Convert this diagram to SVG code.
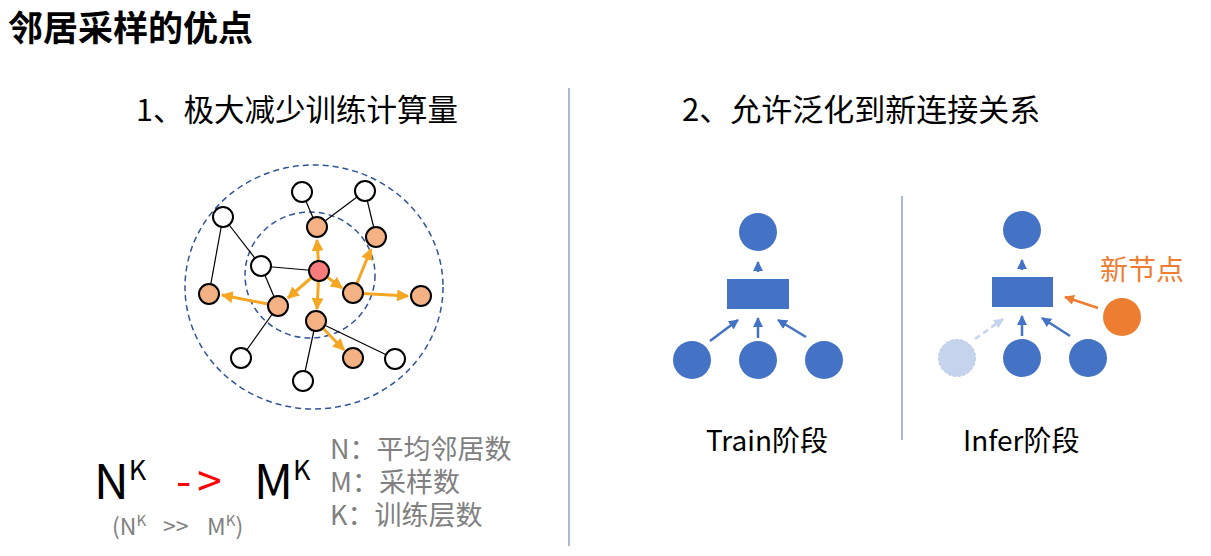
<svg xmlns="http://www.w3.org/2000/svg" width="1211" height="556" viewBox="0 0 1211 556">
<style>
text{font-family:"Noto Sans CJK SC","Noto Sans",sans-serif}
.e{stroke:#000;stroke-width:1.2}
.w{fill:#fff;stroke:#000;stroke-width:2}
.o{fill:#F4B183;stroke:#000;stroke-width:2}
.oa{stroke:#F5A623;stroke-width:3;fill:none;marker-end:url(#oh)}
.b{fill:#4472C4}
.ba{stroke:#4472C4;stroke-width:2.5;marker-end:url(#bh)}
</style>
<defs>
<marker id="oh" viewBox="0 0 10 10" refX="9" refY="5" markerWidth="4" markerHeight="4" orient="auto"><path d="M0,0L10,5L0,10z" fill="#F5A623"/></marker>
<marker id="bh" viewBox="0 0 10 10" refX="9" refY="5" markerWidth="4" markerHeight="4" orient="auto"><path d="M0,0L10,5L0,10z" fill="#4472C4"/></marker>
<marker id="lh" viewBox="0 0 10 10" refX="9" refY="5" markerWidth="4" markerHeight="4" orient="auto"><path d="M0,0L10,5L0,10z" fill="#C5D3EC"/></marker>
<marker id="rh" viewBox="0 0 10 10" refX="9" refY="5" markerWidth="4" markerHeight="4" orient="auto"><path d="M0,0L10,5L0,10z" fill="#ED7D31"/></marker>
</defs>
<text x="8" y="41" font-size="35" font-weight="bold">邻居采样的优点</text>
<text x="136" y="121" font-size="30.5">1、极大减少训练计算量</text>
<text x="682" y="121" font-size="31">2、允许泛化到新连接关系</text>
<line x1="569" y1="88" x2="569" y2="546" stroke="#8FA4C8" stroke-width="1.5"/>
<line x1="902" y1="196" x2="902" y2="440" stroke="#8FA4C8" stroke-width="1.5"/>
<ellipse cx="314" cy="287" rx="129" ry="122" fill="none" stroke="#2F5597" stroke-width="1.5" stroke-dasharray="6,4"/>
<ellipse cx="310" cy="275" rx="65" ry="63" fill="none" stroke="#2F5597" stroke-width="1.5" stroke-dasharray="6,4"/>
<g id="connectors">
<line class="e" x1="302" y1="192" x2="317" y2="227"/>
<line class="e" x1="365" y1="191" x2="317" y2="227"/>
<line class="e" x1="365" y1="191" x2="376" y2="237"/>
<line class="e" x1="223" y1="217" x2="209" y2="294"/>
<line class="e" x1="223" y1="217" x2="261" y2="266"/>
<line class="e" x1="261" y1="266" x2="319" y2="271"/>
<line class="e" x1="261" y1="266" x2="278" y2="306"/>
<line class="e" x1="278" y1="306" x2="241" y2="358"/>
<line class="e" x1="316" y1="321" x2="303" y2="381"/>
<line class="e" x1="316" y1="321" x2="395" y2="359"/>
<line class="oa" x1="319" y1="271" x2="317" y2="240"/>
<line class="oa" x1="319" y1="271" x2="288" y2="298"/>
<line class="oa" x1="319" y1="271" x2="342" y2="288"/>
<line class="oa" x1="319" y1="271" x2="317" y2="309"/>
<line class="oa" x1="353" y1="293" x2="371" y2="249"/>
<line class="oa" x1="353" y1="293" x2="408" y2="296"/>
<line class="oa" x1="278" y1="306" x2="222" y2="295"/>
<line class="oa" x1="316" y1="321" x2="344" y2="350"/>
<line class="ba" x1="758" y1="272" x2="758" y2="262"/>
<line class="ba" x1="710" y1="341" x2="738" y2="320"/>
<line class="ba" x1="758" y1="338" x2="758" y2="318"/>
<line class="ba" x1="806" y1="337" x2="778" y2="320"/>
<line class="ba" x1="1022" y1="270" x2="1022" y2="260"/>
<line x1="975" y1="339" x2="1003" y2="319" stroke="#C5D3EC" stroke-width="2.5" stroke-dasharray="6,4" marker-end="url(#lh)"/>
<line class="ba" x1="1022" y1="336" x2="1022" y2="316"/>
<line class="ba" x1="1070" y1="336" x2="1042" y2="318"/>
<line x1="1098" y1="308" x2="1065" y2="297" stroke="#ED7D31" stroke-width="2.5" marker-end="url(#rh)"/>
</g>
<g id="n1"><circle class="w" cx="302" cy="192" r="10"/></g>
<g id="n2"><circle class="w" cx="365" cy="191" r="10"/></g>
<g id="n3"><circle class="w" cx="223" cy="217" r="10"/></g>
<g id="n4"><circle class="o" cx="317" cy="227" r="10"/></g>
<g id="n5"><circle class="o" cx="376" cy="237" r="10"/></g>
<g id="n6"><circle class="w" cx="261" cy="266" r="10"/></g>
<g id="n7"><circle cx="319" cy="271" r="10" fill="#F87C7C" stroke="#000" stroke-width="2"/></g>
<g id="n8"><circle class="o" cx="209" cy="294" r="10"/></g>
<g id="n9"><circle class="o" cx="353" cy="293" r="10"/></g>
<g id="n10"><circle class="o" cx="421" cy="296" r="10"/></g>
<g id="n11"><circle class="o" cx="278" cy="306" r="10"/></g>
<g id="n12"><circle class="o" cx="316" cy="321" r="10"/></g>
<g id="n13"><circle class="w" cx="241" cy="358" r="10"/></g>
<g id="n14"><circle class="o" cx="353" cy="358" r="10"/></g>
<g id="n15"><circle class="w" cx="395" cy="359" r="10"/></g>
<g id="n16"><circle class="w" cx="303" cy="381" r="10"/></g>
<g id="t1"><circle class="b" cx="758" cy="232" r="19"/></g>
<g id="t2"><rect class="b" x="727" y="279" width="62" height="30"/></g>
<g id="t3"><circle class="b" cx="692" cy="360" r="19"/></g>
<g id="t4"><circle class="b" cx="758" cy="360" r="19"/></g>
<g id="t5"><circle class="b" cx="824" cy="360" r="19"/></g>
<g id="i1"><circle class="b" cx="1022" cy="230" r="19"/></g>
<g id="i2"><rect class="b" x="992" y="277" width="61" height="30"/></g>
<g id="i3"><circle cx="957" cy="358" r="18.5" fill="#C5D3EC" stroke="#B4C7E7" stroke-dasharray="3,2"/></g>
<g id="i4"><circle class="b" cx="1022" cy="358" r="19"/></g>
<g id="i5"><circle class="b" cx="1088" cy="358" r="19"/></g>
<g id="i6"><circle cx="1122" cy="317" r="19" fill="#ED7D31"/></g>
<text x="1100" y="280" font-size="28" fill="#ED7D31">新节点</text>
<text x="706" y="451" font-size="28">Train阶段</text>
<text x="963" y="451" font-size="28">Infer阶段</text>
<text x="94" y="499" font-size="48">N<tspan font-size="27" dy="-19">K</tspan></text>
<text x="176" y="497" font-size="44" fill="#FF0000" letter-spacing="6">-&gt;</text>
<text x="254" y="499" font-size="48">M<tspan font-size="27" dy="-19">K</tspan></text>
<text x="112" y="535" font-size="23" fill="#808080">(N<tspan font-size="15" dy="-9">K</tspan><tspan x="163" dy="9">&gt;&gt;</tspan><tspan x="207">M</tspan><tspan font-size="15" dy="-9">K</tspan><tspan dy="9">)</tspan></text>
<text x="330" y="459" font-size="27" fill="#808080">N：平均邻居数</text>
<text x="330" y="492" font-size="27" fill="#808080">M：采样数</text>
<text x="330" y="525" font-size="27" fill="#808080">K：训练层数</text>
</svg>
